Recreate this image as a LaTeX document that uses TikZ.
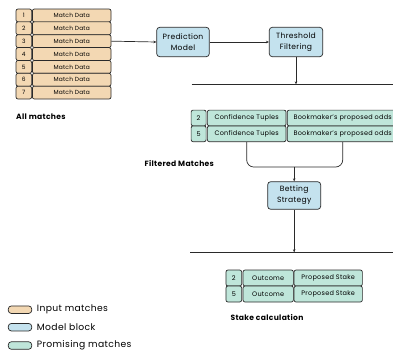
\documentclass[tikz,border=0pt]{standalone}
\usepackage{fontspec}
\setmainfont{Poppins}[LetterSpace=4]
\usetikzlibrary{arrows.meta}
\definecolor{inputc}{HTML}{F3D8B3}
\definecolor{modelc}{HTML}{C4E2EE}
\definecolor{promc}{HTML}{BFE6DA}
\definecolor{linec}{HTML}{2A2A2A}
\tikzset{
  cell/.style={draw=linec, line width=0.7pt, rounded corners=2pt, inner sep=0pt, anchor=center, align=center},
  incell/.style={cell, fill=inputc, font=\fontsize{5.9}{6}\selectfont},
  prcell/.style={cell, fill=promc, font=\fontsize{6.5}{7}\selectfont},
  modbox/.style={cell, fill=modelc, rounded corners=3pt, font=\fontsize{7.6}{11}\selectfont},
  lbl/.style={font=\bfseries\fontsize{7.6}{8}\selectfont, inner sep=0pt},
  leg/.style={draw=linec, line width=0.7pt, rounded corners=3pt, minimum width=23.4pt, minimum height=7.5pt, inner sep=0pt},
  legt/.style={font=\fontsize{9.2}{10}\selectfont, inner sep=0pt, anchor=west},
  flow/.style={draw=linec, line width=0.7pt},
  arr/.style={flow, -{Stealth[length=3pt,width=2.6pt]}}
}
\begin{document}
\begin{tikzpicture}[x=1pt,y=-1pt]
\useasboundingbox (0,0) rectangle (393,354);
\clip (0,0) rectangle (393,354);
% All matches table
\foreach \i in {1,...,7}{
  \pgfmathsetmacro{\yy}{9+12.86*(\i-0.5)}
  \node[incell, minimum width=15.6pt, minimum height=12.86pt] (n\i) at (23.8,\yy) {\i};
  \node[incell, minimum width=78.6pt, minimum height=12.86pt] (d\i) at (71.7,\yy) {Match Data};
}
\node[lbl, anchor=west] (allm) at (16,117) {All matches};
% model blocks
\node[modbox, minimum width=52.6pt, minimum height=29.4pt] (pm) at (183,42) {Prediction\\Model};
\node[modbox, minimum width=53.4pt, minimum height=29.4pt] (tf) at (296,42) {Threshold\\Filtering};
\draw[arr] (d3.east) -- (pm.west);
\draw[arr] (pm.east) -- (tf.west);
\coordinate (l1a) at (191.7,84.3);
\coordinate (l1b) at (400,84.3);
\coordinate (l1m) at (296,84.3);
\draw[flow] (l1a) -- (l1b);
\draw[arr] (tf.south) -- (l1m);
% filtered matches
\node[prcell, minimum width=15pt, minimum height=15.8pt] (f2n) at (198.6,118) {2};
\node[prcell, minimum width=78.7pt, minimum height=15.8pt] (f2c) at (246.7,118) {Confidence Tuples};
\node[prcell, minimum width=111pt, minimum height=15.8pt] (f2b) at (342.7,118) {Bookmaker’s proposed odds};
\node[prcell, minimum width=15pt, minimum height=15.8pt] (f5n) at (198.6,133.8) {5};
\node[prcell, minimum width=78.7pt, minimum height=15.8pt] (f5c) at (246.7,133.8) {Confidence Tuples};
\node[prcell, minimum width=111pt, minimum height=15.8pt] (f5b) at (342.7,133.8) {Bookmaker’s proposed odds};
\node[lbl] (filt) at (179.3,163.3) {Filtered Matches};
% merge
\node[modbox, minimum width=53pt, minimum height=27.6pt] (bs) at (294.2,195.5) {Betting\\Strategy};
\coordinate (mg) at (294.2,167);
\draw[flow, rounded corners=7pt] (f5c.south) |- (mg);
\draw[flow, rounded corners=7pt] (f5b.south) |- (mg);
\draw[arr] (mg) -- (bs.north);
\coordinate (l2a) at (190,252.3);
\coordinate (l2b) at (400,252.3);
\coordinate (l2m) at (294.2,252.3);
\draw[flow] (l2a) -- (l2b);
\draw[arr] (bs.south) -- (l2m);
% stake calc
\node[prcell, minimum width=15.7pt, minimum height=16pt] (s2n) at (233.8,278) {2};
\node[prcell, minimum width=50.3pt, minimum height=16pt] (s2o) at (268.2,278) {Outcome};
\node[prcell, minimum width=68.3pt, minimum height=16pt] (s2p) at (328.2,278) {Proposed Stake};
\node[prcell, minimum width=15.7pt, minimum height=16pt] (s5n) at (233.8,294) {5};
\node[prcell, minimum width=50.3pt, minimum height=16pt] (s5o) at (268.2,294) {Outcome};
\node[prcell, minimum width=68.3pt, minimum height=16pt] (s5p) at (328.2,294) {Proposed Stake};
\node[lbl] (stk) at (267,317.7) {Stake calculation};
% legend
\node[leg, fill=inputc] (lg1) at (20,309.7) {};
\node[leg, fill=modelc] (lg2) at (20,327.2) {};
\node[leg, fill=promc] (lg3) at (20,345.5) {};
\node[legt] (lt1) at (36.7,309.7) {Input matches};
\node[legt] (lt2) at (36.7,327.2) {Model block};
\node[legt] (lt3) at (36.7,345.5) {Promising matches};
\end{tikzpicture}
\end{document}
